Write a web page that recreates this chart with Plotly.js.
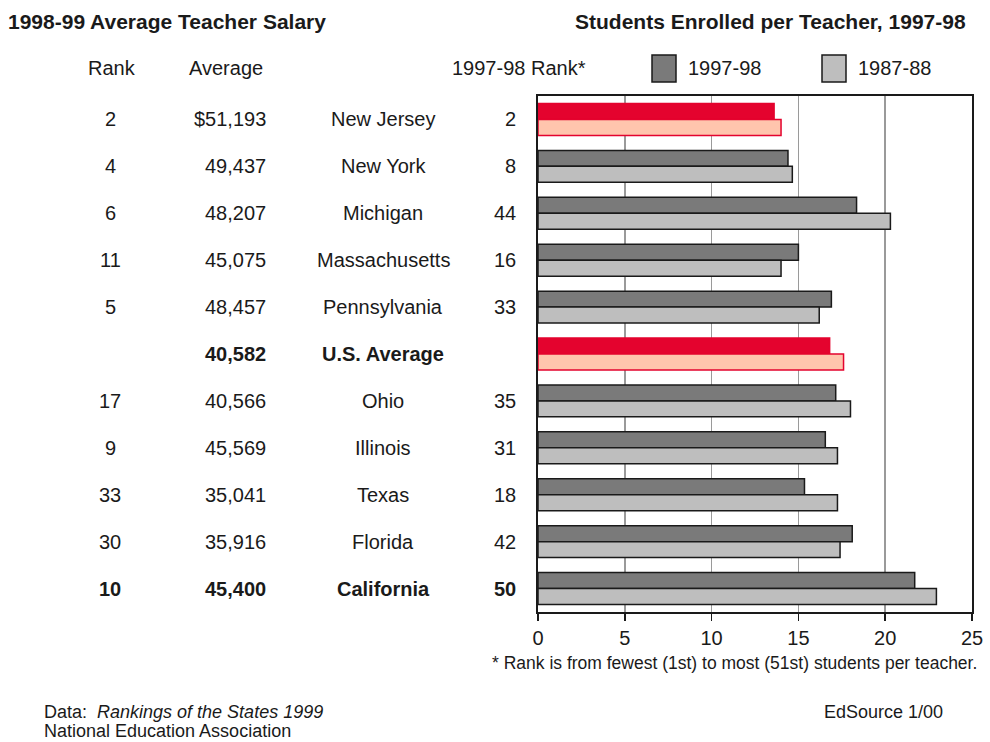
<!DOCTYPE html>
<html>
<head>
<meta charset="utf-8">
<script src="https://cdn.plot.ly/plotly-3.0.1.min.js"></script>
<style>html,body{margin:0;padding:0;background:#fff;}#chart{width:990px;height:742px;}</style>
</head>
<body>
<div id="chart"></div>
<script>
// ---- data ----
const states = ['New Jersey','New York','Michigan','Massachusetts','Pennsylvania','U.S. Average','Ohio','Illinois','Texas','Florida','California'];
const salaryRank = ['2','4','6','11','5','','17','9','33','30','10'];
const salaryAvg = ['$51,193','49,437','48,207','45,075','48,457','40,582','40,566','45,569','35,041','35,916','45,400'];
const studentRank = ['2','8','44','16','33','','35','31','18','42','50'];
const ratio9798 = [13.6,14.4,18.35,15.0,16.9,16.8,17.15,16.55,15.35,18.1,21.7];
const ratio8788 = [14.0,14.65,20.3,14.0,16.2,17.6,18.0,17.25,17.25,17.4,22.95];
const highlighted = ['New Jersey','U.S. Average'];
const boldRows = ['U.S. Average','California'];
const seriesNames = ['1997-98','1987-88'];
const xTicks = [0,5,10,15,20,25];

// ---- styling ----
const FONT = 'Liberation Sans, Arial, Helvetica, sans-serif';
const INK = '#1a1a1a';
const dark = '#7a7a7a', light = '#bebebe';
const red = '#e4032e', salmon = '#ffc5ad';
const isHi = states.map(s => highlighted.includes(s));

const traces = [
  {
    type: 'bar', orientation: 'h', name: seriesNames[0],
    y: states, x: ratio9798,
    marker: {color: isHi.map(h => h ? red : dark),
             line: {color: isHi.map(h => h ? red : INK), width: 1.5}},
    hoverinfo: 'x+name', showlegend: false
  },
  {
    type: 'bar', orientation: 'h', name: seriesNames[1],
    y: states, x: ratio8788,
    marker: {color: isHi.map(h => h ? salmon : light),
             line: {color: isHi.map(h => h ? red : INK), width: 1.5}},
    hoverinfo: 'x+name', showlegend: false
  }
];

// plot area in px
const L = 538, R = 972, T = 96, B = 612;
const px = x => (x - L) / (R - L);
const py = y => (B - y) / (B - T);

const ann = [];
const base = {showarrow: false, font: {family: FONT, size: 20, color: INK}};
states.forEach((s, i) => {
  const b = boldRows.includes(s);
  const isUS = s === 'U.S. Average';
  const f = (bold) => ({family: FONT, size: 20, color: INK, weight: bold ? 700 : 400});
  ann.push({...base, xref: 'paper', yref: 'y', x: px(110), y: s, xanchor: 'center', yanchor: 'middle',
            text: salaryRank[i], font: f(b && !isUS)});
  ann.push({...base, xref: 'paper', yref: 'y', x: px(268), y: s, xanchor: 'right', yanchor: 'middle',
            text: salaryAvg[i], font: f(b)});
  ann.push({...base, xref: 'paper', yref: 'y', x: px(383), y: s, xanchor: 'center', yanchor: 'middle',
            text: s, font: f(b)});
  ann.push({...base, xref: 'paper', yref: 'y', x: px(518), y: s, xanchor: 'right', yanchor: 'middle',
            text: studentRank[i], font: f(b && !isUS)});
});
// headers
ann.push({...base, xref: 'paper', yref: 'paper', x: px(112), y: py(68), xanchor: 'center', yanchor: 'middle', text: 'Rank'});
ann.push({...base, xref: 'paper', yref: 'paper', x: px(226), y: py(68), xanchor: 'center', yanchor: 'middle', text: 'Average'});
ann.push({...base, xref: 'paper', yref: 'paper', x: px(588), y: py(68), xanchor: 'right', yanchor: 'middle', text: '1997-98 Rank*'});
ann.push({...base, xref: 'paper', yref: 'paper', x: px(968), y: py(22), xanchor: 'right', yanchor: 'middle',
          text: '<b>Students Enrolled per Teacher, 1997-98</b>', font: {family: FONT, size: 21, color: INK}});
// legend labels
ann.push({...base, xref: 'paper', yref: 'paper', x: px(686), y: py(68), xanchor: 'left', yanchor: 'middle', text: seriesNames[0]});
ann.push({...base, xref: 'paper', yref: 'paper', x: px(856), y: py(68), xanchor: 'left', yanchor: 'middle', text: seriesNames[1]});
// footnote and source
ann.push({...base, xref: 'paper', yref: 'paper', x: px(979), y: py(663), xanchor: 'right', yanchor: 'middle',
          text: '* Rank is from fewest (1st) to most (51st) students per teacher.', font: {family: FONT, size: 17.5, color: INK}});
ann.push({...base, xref: 'paper', yref: 'paper', x: px(42), y: py(712), xanchor: 'left', yanchor: 'middle',
          text: 'Data:  <i>Rankings of the States 1999</i>', font: {family: FONT, size: 18, color: INK}});
ann.push({...base, xref: 'paper', yref: 'paper', x: px(42), y: py(731), xanchor: 'left', yanchor: 'middle',
          text: 'National Education Association', font: {family: FONT, size: 18, color: INK}});
ann.push({...base, xref: 'paper', yref: 'paper', x: px(945), y: py(712), xanchor: 'right', yanchor: 'middle',
          text: 'EdSource 1/00', font: {family: FONT, size: 18, color: INK}});

const shapes = [
  {type: 'rect', xref: 'paper', yref: 'paper', x0: px(652), x1: px(676), y0: py(82), y1: py(55),
   fillcolor: dark, line: {color: INK, width: 1.5}},
  {type: 'rect', xref: 'paper', yref: 'paper', x0: px(822), x1: px(846), y0: py(82), y1: py(55),
   fillcolor: light, line: {color: INK, width: 1.5}}
];

const layout = {
  width: 990, height: 742,
  margin: {l: L, r: 990 - R, t: T, b: 742 - B, pad: 0},
  paper_bgcolor: '#fff', plot_bgcolor: '#fff',
  font: {family: FONT, size: 20, color: INK},
  title: {text: '<b>1998-99 Average Teacher Salary</b>', x: 8 / 990, xanchor: 'left', xref: 'container',
          y: 1 - 22 / 742, yanchor: 'middle', yref: 'container', font: {family: FONT, size: 21, color: INK}},
  barmode: 'group', bargap: 0.32, bargroupgap: 0,
  showlegend: false,
  xaxis: {range: [0, 25], tickvals: xTicks, ticktext: xTicks.map(String), ticks: 'outside', ticklen: 7,
          tickwidth: 1.5, tickcolor: INK, showline: true, linecolor: INK, linewidth: 2, mirror: true,
          showgrid: true, gridcolor: '#9a9a9a', gridwidth: 1.5, zeroline: false,
          tickfont: {family: FONT, size: 20, color: INK}, fixedrange: true},
  yaxis: {type: 'category', autorange: 'reversed', showticklabels: false, ticks: '',
          showline: true, linecolor: INK, linewidth: 2, mirror: true, showgrid: false, zeroline: false, fixedrange: true},
  annotations: ann,
  shapes: shapes
};

Plotly.newPlot('chart', traces, layout, {displayModeBar: false, staticPlot: true});
</script>
</body>
</html>
